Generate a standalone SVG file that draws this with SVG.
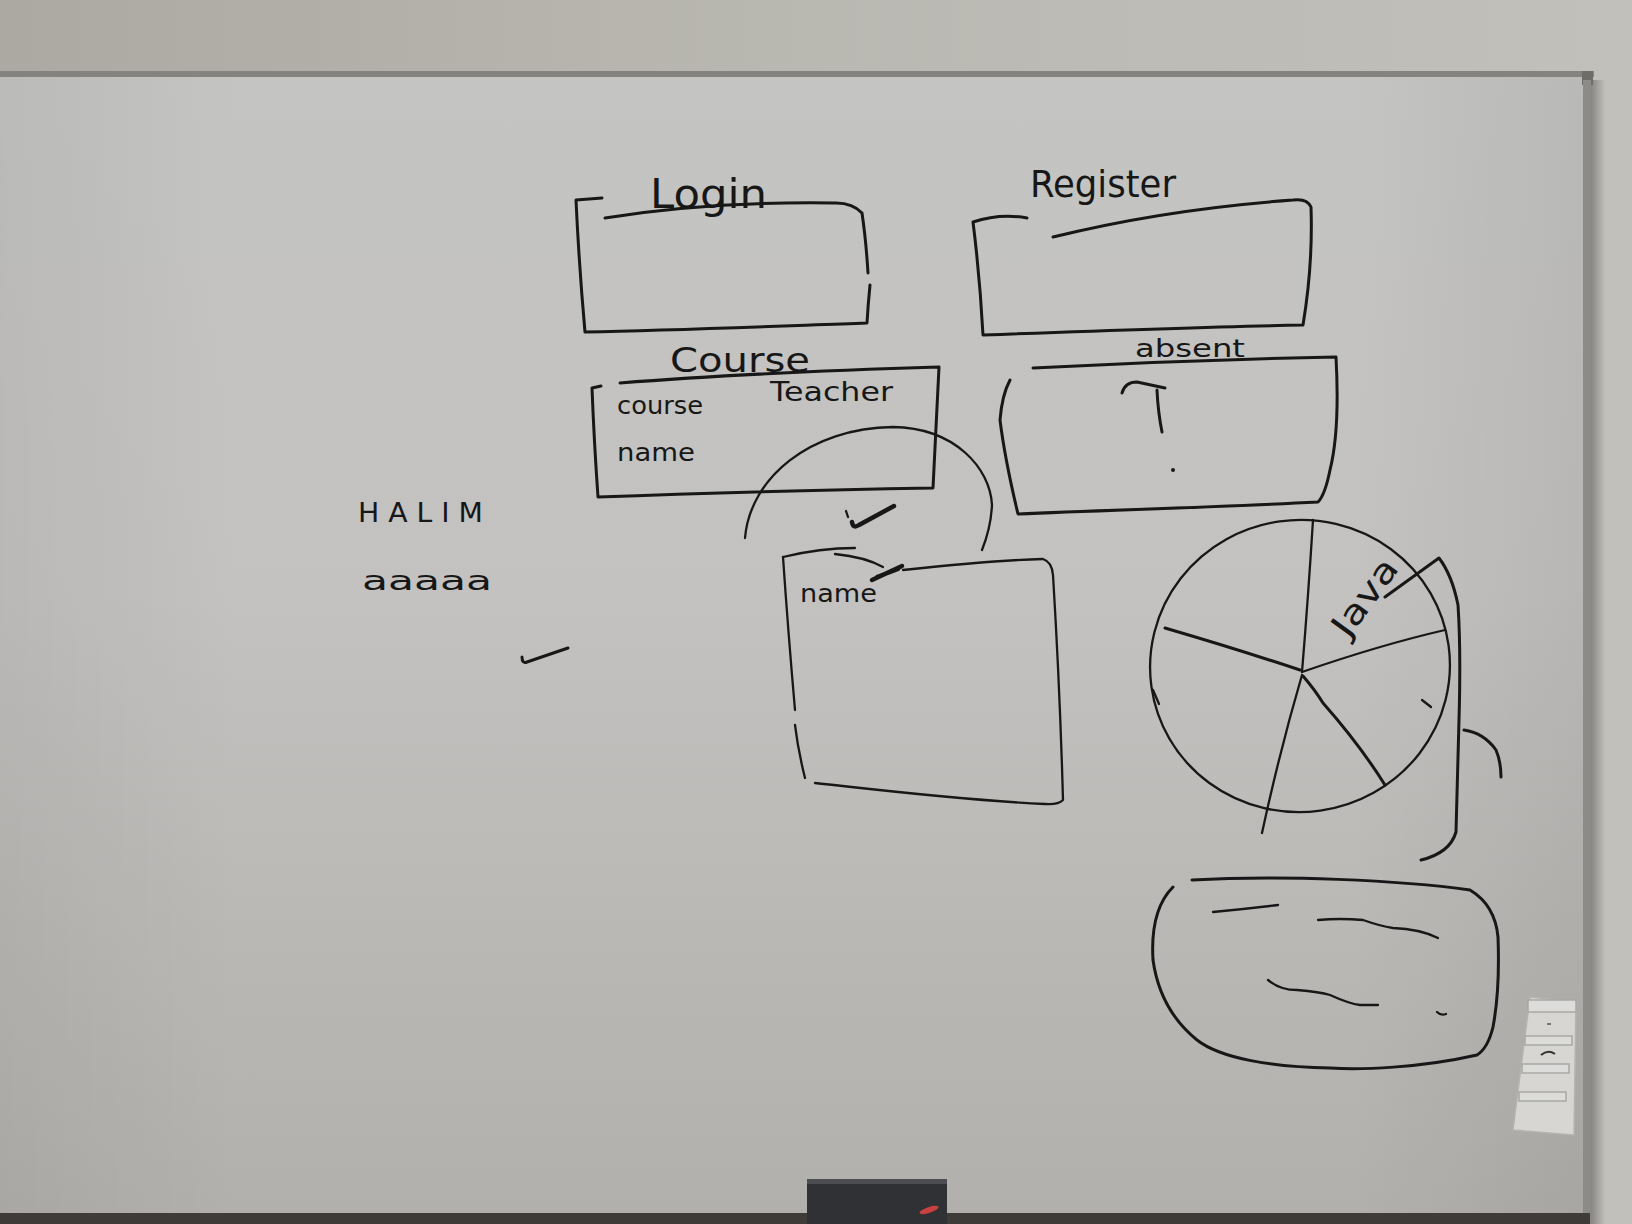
<svg xmlns="http://www.w3.org/2000/svg" width="1632" height="1224" viewBox="0 0 1632 1224">
  <defs>
    <linearGradient id="wallGrad" x1="0" y1="0" x2="1" y2="0">
      <stop offset="0" stop-color="#aca9a2"/>
      <stop offset="0.5" stop-color="#b9b8b1"/>
      <stop offset="1" stop-color="#c1c0ba"/>
    </linearGradient>
    <linearGradient id="boardGrad" x1="0" y1="0" x2="0" y2="1">
      <stop offset="0" stop-color="#c4c4c2"/>
      <stop offset="0.45" stop-color="#c3c2c0"/>
      <stop offset="1" stop-color="#b2b0ad"/>
    </linearGradient>
    <linearGradient id="boardSide" x1="0" y1="0" x2="1" y2="0">
      <stop offset="0" stop-color="#000" stop-opacity="0.05"/>
      <stop offset="0.15" stop-color="#000" stop-opacity="0"/>
      <stop offset="0.85" stop-color="#000" stop-opacity="0"/>
      <stop offset="1" stop-color="#000" stop-opacity="0.06"/>
    </linearGradient>
    <linearGradient id="frameShadow" x1="0" y1="0" x2="1" y2="0">
      <stop offset="0" stop-color="#6e6c69" stop-opacity="0.7"/>
      <stop offset="1" stop-color="#6e6c69" stop-opacity="0"/>
    </linearGradient>
    <style>
      .ink { fill: none; stroke: #171717; stroke-width: 3; stroke-linecap: round; stroke-linejoin: round; }
      .fine { stroke-width: 2.3; }
      .bold { stroke-width: 4.5; }
      .hand { font-family: "DejaVu Sans", "Liberation Sans", sans-serif; fill: #171717; }
      .btn { fill: #dcdcda; stroke: #a9a8a5; stroke-width: 1.5; }
    </style>
  </defs>

  <!-- wall and board surface -->
  <rect x="0" y="0" width="1632" height="1224" fill="url(#wallGrad)"/>
  <rect x="0" y="76" width="1588" height="1142" fill="url(#boardGrad)"/>
  <rect x="0" y="76" width="1588" height="1142" fill="url(#boardSide)"/>

  <!-- frame -->
  <rect x="0" y="71" width="1594" height="6" fill="#85837f"/>
  <rect x="1582" y="71" width="11" height="14" fill="#6f6d6a"/>
  <rect x="1583" y="80" width="8" height="1144" fill="#8d8b88"/>
  <rect x="1591" y="80" width="14" height="1144" fill="url(#frameShadow)"/>
  <rect x="0" y="1213" width="1590" height="11" fill="#3e3b39"/>

  <!-- eraser on tray -->
  <g id="eraser">
    <rect x="807" y="1179" width="140" height="45" fill="#2f3135"/>
    <rect x="807" y="1179" width="140" height="5" fill="#4b4d52"/>
    <ellipse cx="929" cy="1210" rx="10" ry="3" transform="rotate(-18 929 1210)" fill="#c84040"/>
  </g>

  <!-- wall switch plate -->
  <g id="switch">
    <polygon points="1530,997 1576,1002 1574,1135 1513,1130" fill="#d7d6d3" stroke="#b5b4b0" stroke-width="1.5"/>
    <rect class="btn" x="1528" y="1000" width="48" height="12"/>
    <rect class="btn" x="1525" y="1036" width="47" height="9"/>
    <rect class="btn" x="1522" y="1064" width="47" height="9"/>
    <rect class="btn" x="1519" y="1092" width="47" height="9"/>
    <path d="M1541,1055 Q1548,1049 1555,1054" fill="none" stroke="#333" stroke-width="2"/>
    <path d="M1547,1024 L1551,1024" fill="none" stroke="#555" stroke-width="1.5"/>
  </g>

  <!-- Login -->
  <g id="login">
    <text class="hand" x="650" y="208" font-size="40" textLength="117" lengthAdjust="spacingAndGlyphs">Login</text>
    <path class="ink" d="M602,198 L576,200 Q579,265 585,332 C680,330 780,326 867,323 Q868,305 870,285"/>
    <path class="ink" d="M868,273 Q866,240 862,213 Q852,202 833,203 C760,202 680,206 605,218"/>
  </g>

  <!-- Register -->
  <g id="register">
    <text class="hand" x="1030" y="197" font-size="38" textLength="146" lengthAdjust="spacingAndGlyphs">Register</text>
    <path class="ink" d="M1027,218 Q1000,213 973,222 Q980,278 983,335 C1090,331 1200,327 1303,325 Q1313,265 1311,207 Q1307,198 1293,200 C1210,206 1130,218 1053,237"/>
  </g>

  <!-- Course -->
  <g id="course">
    <text class="hand" x="670" y="372" font-size="34" textLength="140" lengthAdjust="spacingAndGlyphs">Course</text>
    <path class="ink" d="M620,383 C720,375 840,370 939,367 Q936,430 933,488 C820,490 700,493 598,497 Q594,440 592,388 L601,386"/>
    <text class="hand" x="617" y="414" font-size="25" textLength="86" lengthAdjust="spacingAndGlyphs">course</text>
    <text class="hand" x="770" y="401" font-size="27" textLength="123" lengthAdjust="spacingAndGlyphs">Teacher</text>
    <text class="hand" x="617" y="461" font-size="25" textLength="78" lengthAdjust="spacingAndGlyphs">name</text>
  </g>

  <!-- absent -->
  <g id="absent">
    <text class="hand" x="1135" y="357" font-size="25" textLength="110" lengthAdjust="spacingAndGlyphs">absent</text>
    <path class="ink" d="M1033,368 C1130,363 1240,359 1336,357 Q1340,430 1330,470 Q1325,495 1318,502 C1220,507 1110,510 1018,514 Q1005,460 1000,420 Q1002,395 1010,380"/>
    <path class="ink" d="M1122,393 Q1125,382 1137,382 L1165,388 M1157,390 Q1158,412 1162,432"/>
    <circle cx="1173" cy="470" r="2" fill="#171717"/>
  </g>

  <!-- name card -->
  <g id="name-card">
    <path class="ink fine" d="M783,557 Q820,548 855,548"/>
    <path class="ink fine" d="M835,554 Q865,557 883,567"/>
    <path class="ink fine" d="M903,570 C950,565 1000,560 1043,559 Q1052,562 1053,575 Q1060,690 1063,800 Q1058,805 1045,804 C960,800 880,790 815,783"/>
    <path class="ink fine" d="M783,557 Q788,630 795,710 M795,725 Q798,750 805,778"/>
    <text class="hand" x="800" y="602" font-size="25" textLength="77" lengthAdjust="spacingAndGlyphs">name</text>
    <path class="ink bold" d="M872,580 L902,566 M877,577 L898,569"/>
  </g>

  <!-- notes on the left -->
  <g id="halim">
    <text class="hand" x="358" y="522" font-size="27" textLength="125" lengthAdjust="spacingAndGlyphs">H A L I M</text>
    <text class="hand" x="362" y="590" font-size="26" textLength="130" lengthAdjust="spacingAndGlyphs">aaaaa</text>
    <path class="ink" d="M522,657 Q522,664 527,662 L568,648"/>
  </g>

  <!-- pie chart -->
  <g id="pie">
    <ellipse class="ink fine" cx="1300" cy="666" rx="150" ry="146" transform="rotate(-8 1300 666)"/>
    <path class="ink fine" d="M1313,520 Q1308,600 1302,672"/>
    <path class="ink" d="M1165,628 Q1240,650 1300,670"/>
    <path class="ink fine" d="M1302,672 Q1380,645 1445,630"/>
    <path class="ink fine" d="M1302,675 Q1280,750 1262,833"/>
    <path class="ink" d="M1303,676 Q1315,690 1323,703 Q1360,745 1385,785"/>
    <path class="ink fine" d="M1153,690 L1159,704"/>
    <path class="ink fine" d="M1422,700 L1431,707"/>
    <text class="hand" x="1366" y="608" font-size="34" text-anchor="middle" textLength="88" lengthAdjust="spacingAndGlyphs" transform="rotate(-54 1366 598)">Java</text>
  </g>

  <!-- rounded note box -->
  <g id="note-box">
    <path class="ink" d="M1192,880 C1280,875 1400,880 1470,890 Q1495,905 1498,937 Q1500,990 1493,1027 Q1488,1048 1477,1055 C1420,1068 1360,1070 1330,1068 C1270,1067 1220,1058 1197,1040 Q1160,1010 1153,960 Q1150,910 1173,887"/>
    <path class="ink fine" d="M1213,912 Q1245,909 1278,905"/>
    <path class="ink fine" d="M1318,920 Q1340,918 1363,920 Q1380,926 1393,928 Q1420,929 1438,938"/>
    <path class="ink fine" d="M1268,980 Q1280,990 1297,990 Q1320,992 1330,995 Q1350,1004 1360,1005 L1378,1005"/>
    <path class="ink fine" d="M1437,1012 Q1441,1016 1446,1014"/>
  </g>

  <!-- connecting strokes -->
  <g id="connectors">
    <path class="ink fine" d="M745,538 C750,478 810,428 893,427 C955,428 990,468 992,505 C991,525 986,540 982,550"/>
    <path class="ink fine" d="M846,511 L848,517"/>
    <path class="ink bold" d="M852,522 Q853,529 859,525 L894,506"/>
    <path class="ink" d="M1385,597 L1439,558 Q1452,575 1458,605 Q1461,650 1459,720 L1456,832 Q1450,853 1421,860"/>
    <path class="ink" d="M1464,730 Q1484,733 1496,750 Q1501,762 1501,777"/>
  </g>
</svg>
